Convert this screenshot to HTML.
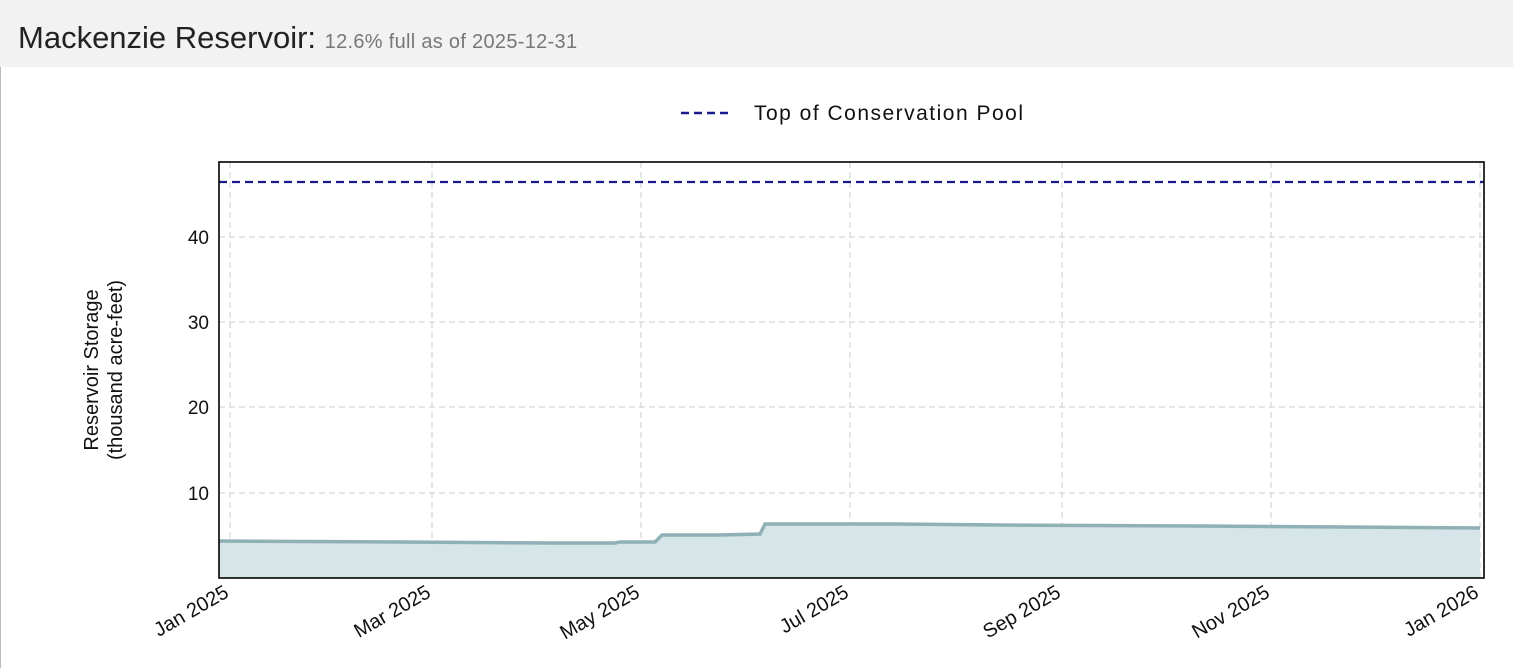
<!DOCTYPE html>
<html><head><meta charset="utf-8"><style>
body{margin:0;width:1513px;height:668px;background:#fff;overflow:hidden;font-family:"Liberation Sans",sans-serif}
.hdr{position:absolute;left:0;top:0;width:1513px;height:67px;background:#f2f2f2}
.t{position:absolute;left:18px;top:20px;font-size:31px;color:#222;white-space:nowrap;font-weight:300}
.t span{font-size:20px;color:#777;letter-spacing:0.3px}
</style></head><body>
<div class="hdr"><div class="t">Mackenzie Reservoir: <span>12.6% full as of 2025-12-31</span></div></div>
<div style="position:absolute;left:0;top:67px;width:1px;height:601px;background:#bbb"></div>
<svg width="1513" height="668" style="position:absolute;left:0;top:0" font-family="Liberation Sans, sans-serif">
<line x1="681" y1="113" x2="733" y2="113" stroke="#1a1a8c" stroke-width="2.5" stroke-dasharray="8,5"/>
<text x="754" y="120" font-size="21" fill="#111" textLength="269">Top of Conservation Pool</text>
<g stroke="#d8d8d8" stroke-width="1.3" stroke-dasharray="6,4">
<line x1="219" y1="237" x2="1484" y2="237"/><line x1="219" y1="322" x2="1484" y2="322"/>
<line x1="219" y1="407" x2="1484" y2="407"/><line x1="219" y1="493" x2="1484" y2="493"/>
<line x1="230" y1="162" x2="230" y2="578"/><line x1="432" y1="162" x2="432" y2="578"/>
<line x1="641" y1="162" x2="641" y2="578"/><line x1="850" y1="162" x2="850" y2="578"/>
<line x1="1062" y1="162" x2="1062" y2="578"/><line x1="1271" y1="162" x2="1271" y2="578"/>
<line x1="1480" y1="162" x2="1480" y2="578"/>
</g>
<path d="M219,541 L400,542 L550,543 L615,543 L620,542 L655,542 L662,535 L720,535 L760,534 L765,524 L850,524 L895,524 L1000,525 L1200,526 L1480,528 L1480,578 L219,578 Z" fill="#d5e5e8"/>
<path d="M219,541 L400,542 L550,543 L615,543 L620,542 L655,542 L662,535 L720,535 L760,534 L765,524 L850,524 L895,524 L1000,525 L1200,526 L1480,528" fill="none" stroke="#8fb0b4" stroke-width="3.5"/>
<line x1="219" y1="182" x2="1484" y2="182" stroke="#1a1a8c" stroke-width="2.2" stroke-dasharray="8,5"/>
<rect x="219" y="162" width="1265" height="416" fill="none" stroke="#000" stroke-width="1.6"/>
<g font-size="19" fill="#111" text-anchor="end">
<text x="209" y="244">40</text><text x="209" y="329">30</text><text x="209" y="414">20</text><text x="209" y="500">10</text>
</g>
<g font-size="20" fill="#111" text-anchor="middle">
<text transform="translate(98,370) rotate(-90)">Reservoir Storage</text>
<text transform="translate(122,370) rotate(-90)">(thousand acre-feet)</text>
</g>
<g font-size="20" fill="#111" text-anchor="end">
<text transform="translate(230,596) rotate(-30)">Jan 2025</text>
<text transform="translate(432,596) rotate(-30)">Mar 2025</text>
<text transform="translate(641,596) rotate(-30)">May 2025</text>
<text transform="translate(850,596) rotate(-30)">Jul 2025</text>
<text transform="translate(1062,596) rotate(-30)">Sep 2025</text>
<text transform="translate(1271,596) rotate(-30)">Nov 2025</text>
<text transform="translate(1480,596) rotate(-30)">Jan 2026</text>
</g>
</svg>
</body></html>
